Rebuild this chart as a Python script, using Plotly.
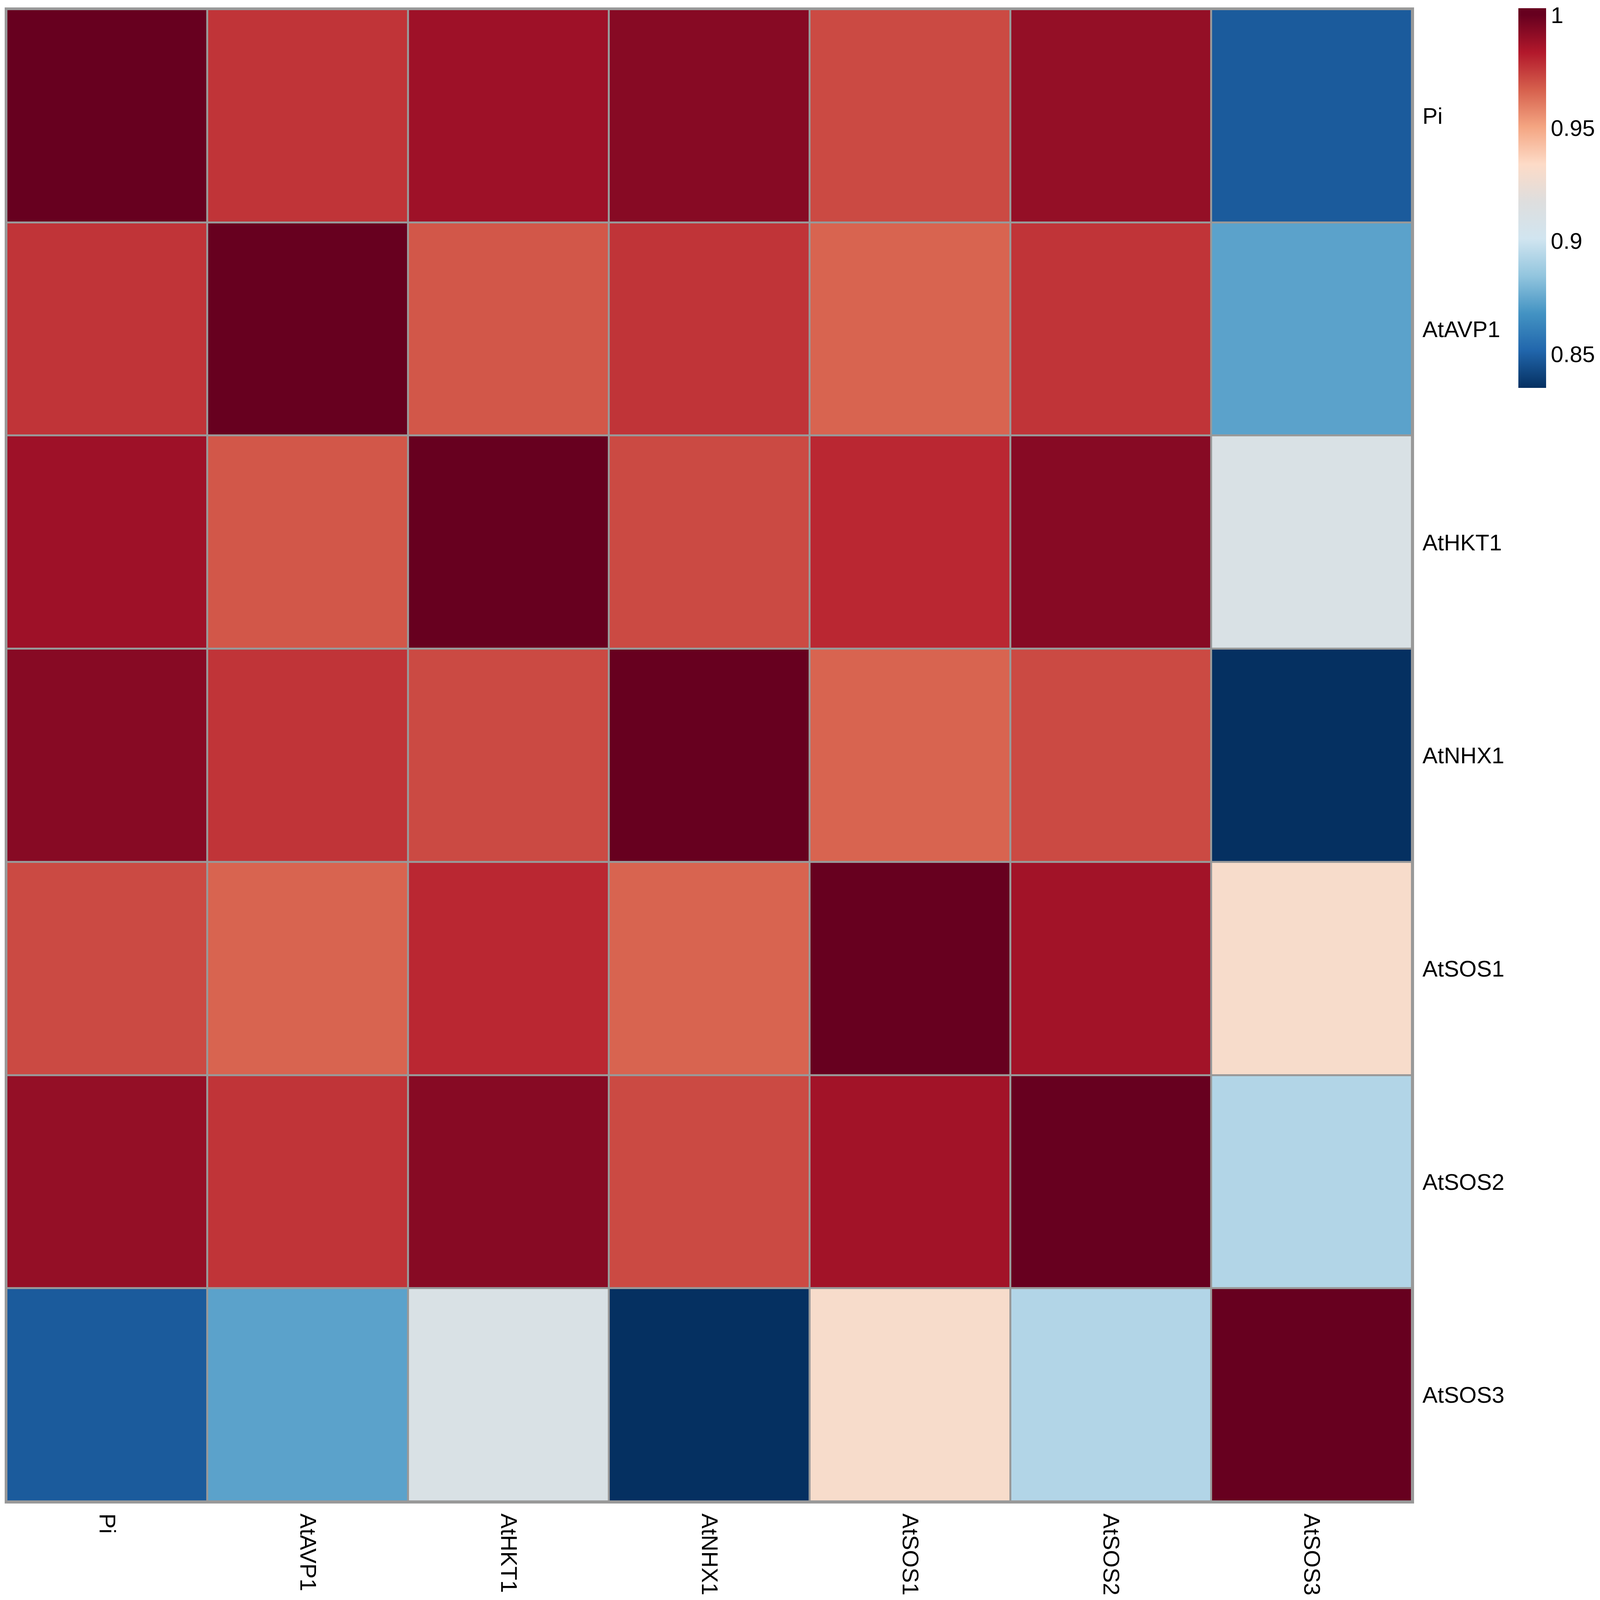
"""Correlation heatmap of Pi and the salt-tolerance genes (pheatmap style)."""
import plotly.graph_objects as go

genes = ['Pi', 'AtAVP1', 'AtHKT1', 'AtNHX1', 'AtSOS1', 'AtSOS2', 'AtSOS3']

# correlation rows, top to bottom, same order as genes
row_pi = [1.000, 0.977, 0.988, 0.993, 0.972, 0.990, 0.848]
row_avp1 = [0.977, 1.000, 0.969, 0.977, 0.966, 0.977, 0.873]
row_hkt1 = [0.988, 0.969, 1.000, 0.972, 0.980, 0.993, 0.911]
row_nhx1 = [0.993, 0.977, 0.972, 1.000, 0.966, 0.972, 0.835]
row_sos1 = [0.972, 0.966, 0.980, 0.966, 1.000, 0.987, 0.931]
row_sos2 = [0.990, 0.977, 0.993, 0.972, 0.987, 1.000, 0.893]
row_sos3 = [0.848, 0.873, 0.911, 0.835, 0.931, 0.893, 1.000]

cbar_ticks = [0.85, 0.9, 0.95, 1]
cbar_ticktext = ['0.85', '0.9', '0.95', '1']

corr = [row_pi, row_avp1, row_hkt1, row_nhx1, row_sos1, row_sos2, row_sos3]

zmin, zmax = 0.835, 1.003

# RdBu low -> high, the white centre is a light grey in the original
rdbu = ['#053061', '#2166ac', '#4393c3', '#92c5de', '#d1e5f0', '#dedede',
        '#fddbc7', '#f4a582', '#d6604d', '#b2182b', '#67001f']
# ramp runs from zmin to 1, the small headroom above 1 keeps the top colour
top = (1.0 - zmin) / (zmax - zmin)
colorscale = [[top * i / (len(rdbu) - 1), c] for i, c in enumerate(rdbu)]
colorscale.append([1.0, rdbu[-1]])

# the page is 4096 wide with an 8px body margin
W, H = 4080, 4080
ml, mt, mr, mb = 4, 16, 473, 232
plot_w, plot_h = W - ml - mr, H - mt - mb

fig = go.Figure(go.Heatmap(
    z=corr, x=genes, y=genes,
    zmin=zmin, zmax=zmax,
    colorscale=colorscale,
    xgap=5, ygap=5,
    colorbar=dict(
        x=(3879 - ml) / plot_w, xanchor='left',
        y=(H - mb - 13) / plot_h, yanchor='top',
        thickness=71, thicknessmode='pixels',
        len=972, lenmode='pixels',
        outlinewidth=0, ticks='',
        tickvals=cbar_ticks, ticktext=cbar_ticktext,
        ticklabeloverflow='allow',
        tickfont=dict(family='Liberation Sans', size=58, color='black'),
        ypad=0, xpad=0,
    ),
))

fig.update_layout(
    width=W, height=H,
    margin=dict(l=ml, r=mr, t=mt, b=mb, pad=0),
    paper_bgcolor='white', plot_bgcolor='#999999',
    font=dict(family='Liberation Sans', size=58, color='black'),
)
fig.update_xaxes(tickangle=90, showgrid=False, zeroline=False, ticks='',
                 showline=True, mirror=True, linecolor='#999999', linewidth=5,
                 ticklabelstandoff=14)
fig.update_yaxes(autorange='reversed', side='right', showgrid=False, zeroline=False,
                 ticks='', showline=True, mirror=True, linecolor='#999999', linewidth=5,
                 ticklabelstandoff=10)

fig.write_html("out.html")
